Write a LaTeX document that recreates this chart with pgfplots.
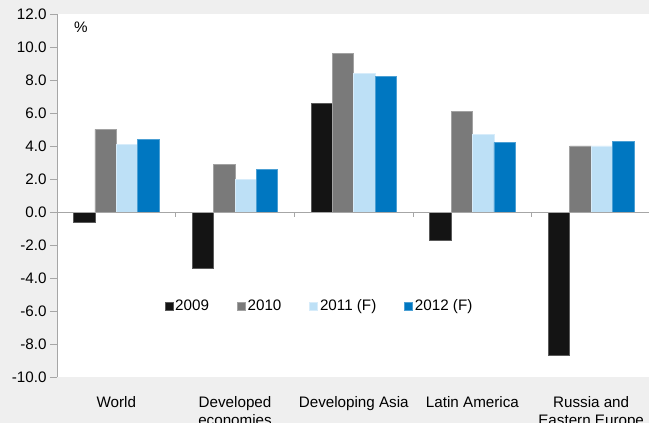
\documentclass[border=0pt]{standalone}
\usepackage{fontspec}
\setmainfont{Liberation Sans}
\usepackage{pgfplots}
\pgfplotsset{compat=1.18}

\definecolor{pagegray}{HTML}{EFEFEF}
\definecolor{axisgray}{HTML}{A6A6A6}
\definecolor{cA}{HTML}{141414}
\definecolor{cB}{HTML}{7A7A7A}
\definecolor{cC}{HTML}{BDE0F6}
\definecolor{cD}{HTML}{0077C1}

\newcommand{\lbl}{\fontsize{15.2bp}{17.5bp}\selectfont}

\begin{document}
\begin{tikzpicture}
\path[use as bounding box] (-57bp,-46bp) rectangle (592bp,377bp);
\fill[pagegray] (-57bp,-46bp) rectangle (592bp,377bp);
\begin{axis}[
  at={(0,0)}, anchor=south west,
  scale only axis,
  width=593.5bp, height=363bp,
  xmin=-0.5, xmax=4.5,
  ymin=-10, ymax=12,
  axis background/.style={fill=white},
  axis x line*=bottom, axis y line*=left,
  x axis line style={draw=none},
  y axis line style={draw=axisgray, line width=0.8bp},
  ybar=0pt, bar width=0.18,
  xtick={0,1,2,3,4},
  xticklabels={World, Developed\\economies, Developing Asia, Latin America, Russia and\\Eastern Europe},
  x tick style={draw=none},
  xticklabel style={align=center, font=\lbl, yshift=-9bp},
  ytick={-10,-8,...,12},
  y tick style={draw=axisgray, line width=0.8bp},
  tick align=outside,
  major tick length=7bp,
  /pgf/number format/assume math mode=true,
  yticklabel style={font=\lbl, /pgf/number format/fixed, /pgf/number format/fixed zerofill, /pgf/number format/precision=1},
  legend columns=4,
  legend style={draw=none, fill=none, at={(rel axis cs:0.4423,0.1956)}, anchor=center, font=\lbl,
    /tikz/every even column/.append style={column sep=26bp}},
  legend image code/.code={\fill[#1] (0bp,-4bp) rectangle (8bp,4bp);},
  clip=false,
]
% annual growth, one series per year
\addplot[fill=cA, draw=cA!70!white, line width=0.6bp] coordinates {(0,-0.6) (1,-3.4) (2,6.6) (3,-1.7) (4,-8.7)};
\addplot[fill=cB, draw=cB!70!white, line width=0.6bp] coordinates {(0,5.0) (1,2.9) (2,9.6) (3,6.1) (4,4.0)};
\addplot[fill=cC, draw=cC!60!white, line width=0.6bp] coordinates {(0,4.1) (1,2.0) (2,8.4) (3,4.7) (4,4.0)};
\addplot[fill=cD, draw=cD!70!white, line width=0.6bp] coordinates {(0,4.4) (1,2.6) (2,8.2) (3,4.2) (4,4.3)};
\legend{2009, 2010, 2011 (F), 2012 (F)}
% zero line with category separators
\draw[axisgray, line width=0.8bp] (axis cs:-0.5,0) -- (axis cs:4.5,0);
\pgfplotsinvokeforeach{0.5,1.5,2.5,3.5}{
  \draw[axisgray, line width=0.8bp] (axis cs:#1,0) -- ([yshift=-5bp]axis cs:#1,0);
}
\node[font=\lbl] at (rel axis cs:0.0404,0.964) {\%};
\end{axis}
\end{tikzpicture}
\end{document}
